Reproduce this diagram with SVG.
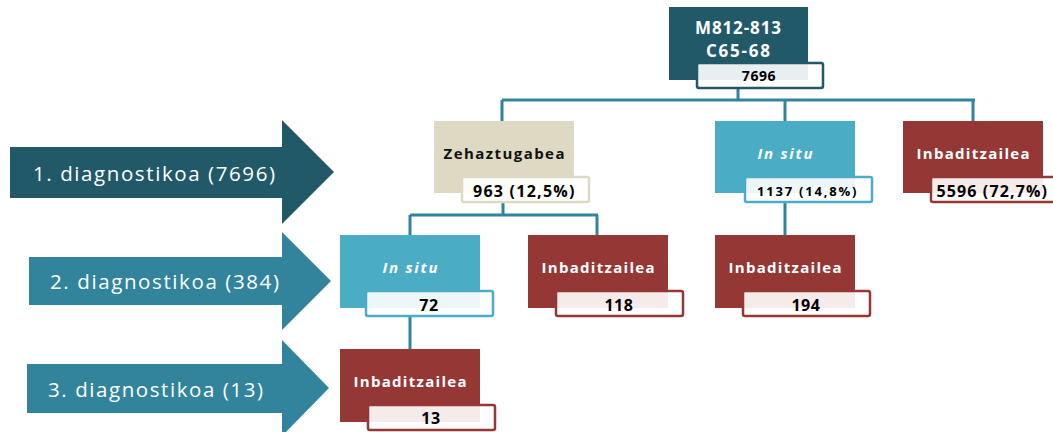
<svg xmlns="http://www.w3.org/2000/svg" width="1053" height="432" viewBox="0 0 1053 432">
<style>
.conn{stroke:#31849b;stroke-width:3;fill:none}
.t{font-family:"Open Sans","Liberation Sans",sans-serif;font-weight:bold;fill:#fff;font-size:15px;text-anchor:middle}
.v{font-family:"Open Sans","Liberation Sans",sans-serif;font-weight:bold;fill:#000;font-size:16px;letter-spacing:0.6px;text-anchor:middle}
.lab{fill:#fff;fill-opacity:0.9;stroke-width:2.5}
.a{font-family:"Open Sans","Liberation Sans",sans-serif;fill:#fff;font-size:20.5px}
.teal{fill:#4bacc6}.red{fill:#953735}.beige{fill:#ddd9c3}
</style>
<g id="connectors">
<path class="conn" d="M738 88V100M502 100H975M502 100V122M785 100V122M973 100V122"/>
<path class="conn" d="M503 202V215M410 215H598M410 215V236M597 215V236M785 202V236"/>
<path class="conn" d="M410 316V350"/>
</g>
<g id="arrow1"><path d="M10 147H282V120L334 172L282 224V198H10Z" fill="#215968"/><text class="a" x="33" y="181" textLength="242" lengthAdjust="spacing">1. diagnostikoa (7696)</text></g>
<g id="arrow2"><path d="M29 257H282V232L331 281L282 330V305H29Z" fill="#31849b"/><text class="a" x="50" y="289" textLength="229" lengthAdjust="spacing">2. diagnostikoa (384)</text></g>
<g id="arrow3"><path d="M27 364H282V340L329 388L282 436V413H27Z" fill="#31849b"/><text class="a" x="48" y="397" textLength="215" lengthAdjust="spacing">3. diagnostikoa (13)</text></g>
<g id="root">
<rect x="669" y="7" width="139" height="73" fill="#215968"/>
<text class="t" x="738" y="34" style="font-size:17px" textLength="86" lengthAdjust="spacing">M812-813</text>
<text class="t" x="738" y="57" style="font-size:17px" textLength="64" lengthAdjust="spacing">C65-68</text>
<rect class="lab" x="697" y="63" width="126" height="25" rx="2" stroke="#215968"/>
<text class="v" x="759" y="81" style="font-size:14px">7696</text>
</g>
<g id="n-zehaztugabea">
<rect class="beige" x="434" y="121" width="140" height="72"/>
<text class="t" x="504" y="159" style="fill:#111" textLength="121" lengthAdjust="spacing">Zehaztugabea</text>
<rect class="lab" x="462" y="177" width="127" height="25" rx="2" stroke="#ddd9c3"/>
<text class="v" x="524" y="197" textLength="102" lengthAdjust="spacing">963 (12,5%)</text>
</g>
<g id="n-insitu1">
<rect class="teal" x="715" y="121" width="140" height="72"/>
<text class="t" x="785" y="159" style="font-style:italic" textLength="55" lengthAdjust="spacing">In situ</text>
<rect class="lab" x="745" y="177" width="127" height="25" rx="2" stroke="#4bacc6"/>
<text class="v" x="807" y="196" style="font-size:13px" textLength="100" lengthAdjust="spacing">1137 (14,8%)</text>
</g>
<g id="n-inbad1">
<rect class="red" x="903" y="121" width="140" height="72"/>
<text class="t" x="973" y="159" textLength="113" lengthAdjust="spacing">Inbaditzailea</text>
<rect class="lab" x="931" y="177" width="124" height="25" rx="2" stroke="#953735"/>
<text class="v" x="992" y="197" textLength="111" lengthAdjust="spacing">5596 (72,7%)</text>
</g>
<g id="n-insitu2">
<rect class="teal" x="340" y="235" width="140" height="73"/>
<text class="t" x="410" y="273" style="font-style:italic" textLength="55" lengthAdjust="spacing">In situ</text>
<rect class="lab" x="366" y="291" width="127" height="25" rx="2" stroke="#4bacc6"/>
<text class="v" x="429" y="311">72</text>
</g>
<g id="n-inbad2">
<rect class="red" x="528" y="235" width="140" height="73"/>
<text class="t" x="598" y="273" textLength="113" lengthAdjust="spacing">Inbaditzailea</text>
<rect class="lab" x="556" y="291" width="127" height="25" rx="2" stroke="#953735"/>
<text class="v" x="619" y="311">118</text>
</g>
<g id="n-inbad3">
<rect class="red" x="715" y="235" width="140" height="73"/>
<text class="t" x="785" y="273" textLength="113" lengthAdjust="spacing">Inbaditzailea</text>
<rect class="lab" x="743" y="291" width="127" height="25" rx="2" stroke="#953735"/>
<text class="v" x="806" y="311">194</text>
</g>
<g id="n-inbad4">
<rect class="red" x="340" y="349" width="140" height="73"/>
<text class="t" x="410" y="387" textLength="113" lengthAdjust="spacing">Inbaditzailea</text>
<rect class="lab" x="368" y="405" width="127" height="25" rx="2" stroke="#953735"/>
<text class="v" x="431" y="424">13</text>
</g>
</svg>
